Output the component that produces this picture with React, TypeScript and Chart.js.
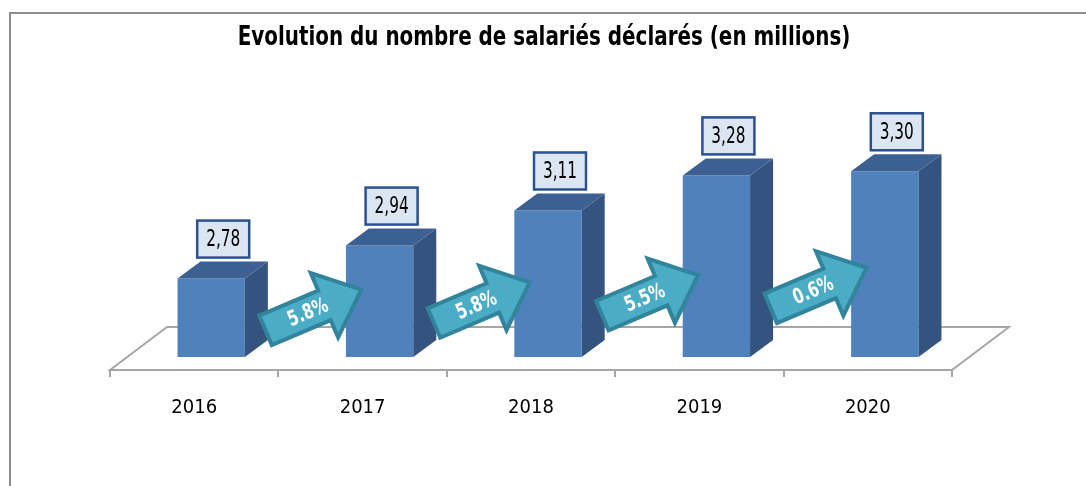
import React, { useEffect, useRef } from "react";
import { Chart, registerables } from "chart.js";

Chart.register(...registerables);

const title = "Evolution du nombre de salariés déclarés (en millions)";
const categories = ["2016", "2017", "2018", "2019", "2020"];
const values = [2.78, 2.94, 3.11, 3.28, 3.3];
const growth = ["5.8%", "5.8%", "5.5%", "0.6%"];
const yMin = 2.4;
const yMax = 3.5;

const FONT = '"DejaVu Sans Condensed", "Liberation Sans Narrow", sans-serif';

const FRONT = "#4f81bd";
const SIDE = "#34547f";
const TOP = "#3c6091";

// depth offsets
const FLOOR_FRONT = { dx: -17, dy: 13 };
const FLOOR_BACK = { dx: 40, dy: -30 };
const BAR_DEPTH = { dx: 23, dy: -17 };

function scaledText(ctx: CanvasRenderingContext2D, text: string, x: number, y: number, sx: number) {
  ctx.save();
  ctx.translate(x, y);
  ctx.scale(sx, 1);
  ctx.fillText(text, 0, 0);
  ctx.restore();
}

function drawArrow(ctx: CanvasRenderingContext2D, cx: number, cy: number, angle: number, text: string) {
  ctx.save();
  ctx.translate(cx, cy);
  ctx.rotate(angle);
  const half = 52;
  const shaftH = 16;
  const headH = 35;
  const headStart = 12;
  ctx.beginPath();
  ctx.moveTo(-half, -shaftH);
  ctx.lineTo(headStart, -shaftH);
  ctx.lineTo(headStart, -headH);
  ctx.lineTo(half, 0);
  ctx.lineTo(headStart, headH);
  ctx.lineTo(headStart, shaftH);
  ctx.lineTo(-half, shaftH);
  ctx.closePath();
  ctx.fillStyle = "#4bacc6";
  ctx.fill();
  ctx.lineWidth = 4;
  ctx.lineJoin = "miter";
  ctx.strokeStyle = "#31849b";
  ctx.stroke();
  ctx.fillStyle = "#ffffff";
  ctx.font = `bold 21px ${FONT}`;
  ctx.textAlign = "center";
  ctx.textBaseline = "middle";
  scaledText(ctx, text, -6, 1, 0.8);
  ctx.restore();
}

const threeD = {
  id: "threeD",
  beforeDraw(chart: any) {
    const { ctx, width } = chart;
    ctx.save();
    ctx.fillStyle = "#000000";
    ctx.font = `bold 27px ${FONT}`;
    ctx.textAlign = "center";
    ctx.textBaseline = "alphabetic";
    scaledText(ctx, title, width / 2 + 1, 45, 0.82);
    ctx.restore();
  },
  beforeDatasetsDraw(chart: any) {
    const { ctx, chartArea: ca, scales } = chart;
    const xs = scales.x;
    const catW = xs.getPixelForValue(1) - xs.getPixelForValue(0);
    const L = ca.left;
    const R = ca.right;
    const B = ca.bottom;
    ctx.save();
    ctx.strokeStyle = "#a6a6a6";
    ctx.lineWidth = 2;
    ctx.beginPath();
    ctx.moveTo(L + FLOOR_FRONT.dx, B + FLOOR_FRONT.dy);
    ctx.lineTo(L + FLOOR_BACK.dx, B + FLOOR_BACK.dy);
    ctx.lineTo(R + FLOOR_BACK.dx, B + FLOOR_BACK.dy);
    ctx.lineTo(R + FLOOR_FRONT.dx, B + FLOOR_FRONT.dy);
    ctx.closePath();
    ctx.stroke();
    ctx.beginPath();
    for (let i = 0; i <= categories.length; i++) {
      const px = Math.round(xs.getPixelForValue(0) - catW / 2 + i * catW + FLOOR_FRONT.dx);
      ctx.moveTo(px, B + FLOOR_FRONT.dy);
      ctx.lineTo(px, B + FLOOR_FRONT.dy + 7);
    }
    ctx.stroke();
    ctx.restore();
  },
  afterDatasetsDraw(chart: any) {
    const { ctx, chartArea: ca, scales } = chart;
    const xs = scales.x;
    const meta = chart.getDatasetMeta(0);
    const base = ca.bottom;
    ctx.save();
    meta.data.forEach((bar: any) => {
      const { x, y, width } = bar.getProps(["x", "y", "width"], true);
      const l = x - width / 2;
      const r = x + width / 2;
      const { dx, dy } = BAR_DEPTH;
      // side face
      ctx.beginPath();
      ctx.moveTo(r, y);
      ctx.lineTo(r + dx, y + dy);
      ctx.lineTo(r + dx, base + dy);
      ctx.lineTo(r, base);
      ctx.closePath();
      ctx.fillStyle = SIDE;
      ctx.fill();
      // top face
      ctx.beginPath();
      ctx.moveTo(l, y);
      ctx.lineTo(l + dx, y + dy);
      ctx.lineTo(r + dx, y + dy);
      ctx.lineTo(r, y);
      ctx.closePath();
      ctx.fillStyle = TOP;
      ctx.fill();
    });
    // value labels
    meta.data.forEach((bar: any, i: number) => {
      const { x, y } = bar.getProps(["x", "y"], true);
      const bw = 52;
      const bh = 37;
      const cx = x + 12;
      const bottom = y - 21;
      ctx.fillStyle = "#dce6f2";
      ctx.fillRect(cx - bw / 2, bottom - bh, bw, bh);
      ctx.lineWidth = 2.5;
      ctx.strokeStyle = "#2a5190";
      ctx.strokeRect(cx - bw / 2, bottom - bh, bw, bh);
      ctx.fillStyle = "#000000";
      ctx.font = `23px ${FONT}`;
      ctx.textAlign = "center";
      ctx.textBaseline = "middle";
      scaledText(ctx, values[i].toFixed(2).replace(".", ","), cx, bottom - bh / 2 + 1, 0.74);
    });
    // growth arrows
    const angle = (-23 * Math.PI) / 180;
    growth.forEach((g, i) => {
      const mid = (xs.getPixelForValue(i) + xs.getPixelForValue(i + 1)) / 2;
      const cx = mid + 18;
      const cy = ca.bottom - 47 - i * 7.3;
      drawArrow(ctx, cx, cy, angle, g);
    });
    ctx.restore();
  },
};

export default function App() {
  const ref = useRef<HTMLCanvasElement | null>(null);
  useEffect(() => {
    if (!ref.current) return;
    const chart = new Chart(ref.current, {
      type: "bar",
      data: {
        labels: categories,
        datasets: [
          {
            data: values,
            backgroundColor: FRONT,
            borderWidth: 0,
            barPercentage: 0.4,
            categoryPercentage: 1,
          },
        ],
      },
      options: {
        responsive: false,
        animation: false,
        layout: { padding: { left: 127, right: 117, top: 130, bottom: 0 } },
        plugins: {
          legend: { display: false },
          tooltip: { enabled: false },
          title: { display: false },
        },
        scales: {
          x: {
            grid: { display: false, drawTicks: false },
            border: { display: false },
            ticks: {
              color: "#000000",
              font: { family: FONT, size: 20 },
              padding: 39,
              labelOffset: FLOOR_FRONT.dx,
            },
            afterFit: (s: any) => {
              s.height = 129;
            },
          },
          y: {
            display: false,
            min: yMin,
            max: yMax,
          },
        },
      },
      plugins: [threeD],
    });
    return () => chart.destroy();
  }, []);

  return (
    <div style={{ position: "absolute", left: 0, top: 0, width: 1086, height: 486, overflow: "hidden", background: "#ffffff" }}>
      <div
        style={{
          position: "absolute",
          left: 9,
          top: 12,
          width: 1200,
          height: 600,
          borderLeft: "2px solid #8e8e8e",
          borderTop: "2px solid #8e8e8e",
        }}
      />
      <canvas ref={ref} width={1086} height={486} style={{ position: "absolute", left: 0, top: 0 }} />
    </div>
  );
}
